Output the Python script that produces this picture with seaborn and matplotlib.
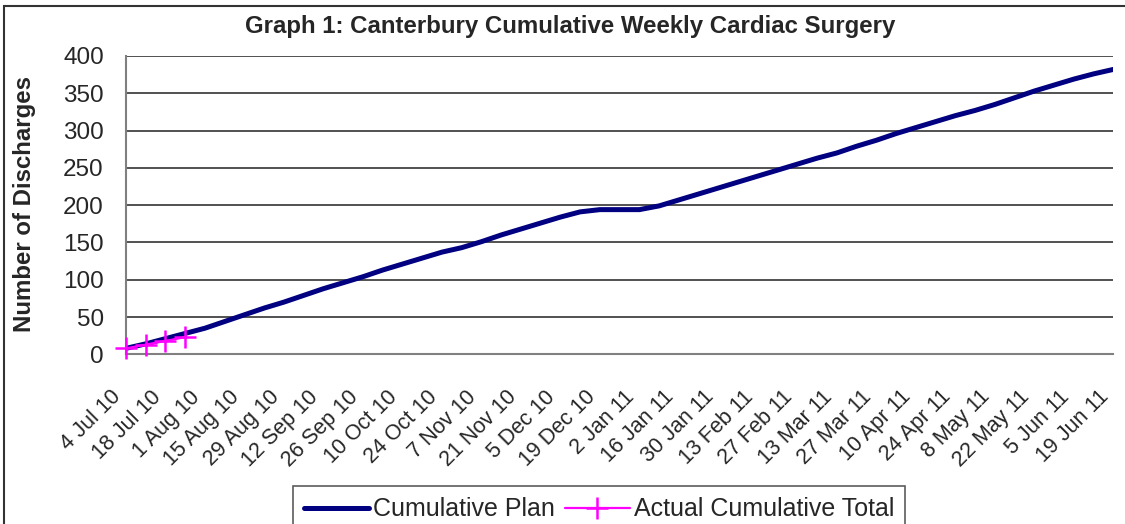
import numpy as np
import pandas as pd
import matplotlib
matplotlib.use("Agg")
import matplotlib.pyplot as plt
import matplotlib.transforms as mtransforms
from matplotlib.patches import Rectangle
from matplotlib.lines import Line2D
import seaborn as sns

# ---------------- data ----------------
week_start = pd.date_range("2010-07-04", periods=51, freq="7D")
cumulative_plan = [8, 14, 21, 28, 35, 44, 53, 62, 70, 79,
                   88, 96, 104, 113, 121, 129, 137, 143, 151, 160,
                   168, 176, 184, 191, 194, 194, 194, 199, 207, 215,
                   223, 231, 239, 247, 255, 263, 270, 279, 287, 296,
                   304, 312, 320, 327, 335, 344, 353, 361, 369, 376, 382]
actual_weeks = [0, 1, 2, 3]
actual_cumulative = [8, 13, 18, 23]
tick_labels = ["4 Jul 10", "18 Jul 10", "1 Aug 10", "15 Aug 10", "29 Aug 10",
               "12 Sep 10", "26 Sep 10", "10 Oct 10", "24 Oct 10", "7 Nov 10",
               "21 Nov 10", "5 Dec 10", "19 Dec 10", "2 Jan 11", "16 Jan 11",
               "30 Jan 11", "13 Feb 11", "27 Feb 11", "13 Mar 11", "27 Mar 11",
               "10 Apr 11", "24 Apr 11", "8 May 11", "22 May 11", "5 Jun 11",
               "19 Jun 11"]
y_ticks = [0, 50, 100, 150, 200, 250, 300, 350, 400]

title = "Graph 1: Canterbury Cumulative Weekly Cardiac Surgery"
y_label = "Number of Discharges"

NAVY = "#000080"
MAGENTA = "#FF00FF"

# ---------------- style ----------------
sns.set_style("white")
plt.rcParams["font.family"] = ["Liberation Sans", "DejaVu Sans"]

W, H = 1125, 524
fig = plt.figure(figsize=(W / 100, H / 100), dpi=100)
ax = fig.add_axes([126 / W, 1 - 354.3 / H, (1113.3 - 126) / W, (354.3 - 56) / H])

plan_df = pd.DataFrame({"week": np.arange(len(week_start)), "value": cumulative_plan})
act_df = pd.DataFrame({"week": actual_weeks, "value": actual_cumulative})

sns.lineplot(data=plan_df, x="week", y="value", color=NAVY, linewidth=3.6,
             ax=ax, zorder=3)
sns.lineplot(data=act_df, x="week", y="value", color=MAGENTA, linewidth=1.6,
             marker="+", markersize=16, markeredgewidth=1.8,
             markeredgecolor=MAGENTA, markerfacecolor=MAGENTA,
             ax=ax, zorder=4, clip_on=False)

ax.set_xlim(0, len(week_start) - 1)
ax.set_ylim(0, 400)
ax.set_xlabel("")
ax.set_ylabel("")
ax.yaxis.grid(True, color="#222222", linewidth=1.1)
ax.xaxis.grid(False)
for s in ["top", "right"]:
    ax.spines[s].set_visible(False)
for s in ["left", "bottom"]:
    ax.spines[s].set_color("#808080")
    ax.spines[s].set_linewidth(1.5)
ax.tick_params(axis="x", direction="out", length=5.5, width=1.2, color="#808080", pad=23)
ax.tick_params(axis="y", direction="out", length=6, width=1.2, color="#808080", pad=10)
ax.set_facecolor("white")

ax.set_yticks(y_ticks)
ax.set_yticklabels([str(v) for v in y_ticks], fontsize=17.5)
ax.set_xticks(np.arange(0, len(week_start), 2))
ax.set_xticklabels(tick_labels, fontsize=15.5, rotation=45, ha="right",
                   va="center", rotation_mode="anchor")
offset = mtransforms.ScaledTranslation(-8 / 100, 0, fig.dpi_scale_trans)
for lbl in ax.get_xticklabels():
    lbl.set_transform(lbl.get_transform() + offset)

fig.text(570 / W, 1 - 27 / H, title, ha="center", va="center",
         fontsize=17.3, fontweight="bold")
fig.text(25 / W, 1 - 204.5 / H, y_label, ha="center", va="center",
         rotation=90, fontsize=17.3, fontweight="bold")

# outer chart-area border
fig.patches.append(Rectangle((4 / W, -0.05), 1.2, 1 - 6 / H + 0.05,
                             transform=fig.transFigure, fill=False,
                             edgecolor="#333333", linewidth=1.5))

handles = [Line2D([], [], color=NAVY, linewidth=3.6),
           Line2D([], [], color=MAGENTA, linewidth=1.6, marker="+",
                  markersize=16, markeredgewidth=1.8, markeredgecolor=MAGENTA)]
leg = fig.legend(handles, ["Cumulative Plan", "Actual Cumulative Total"],
                 loc="upper left", bbox_to_anchor=(293 / W, 1 - 486 / H),
                 ncol=2, fontsize=18, frameon=True, fancybox=False,
                 handlelength=2.6, handletextpad=0.15, columnspacing=0.4,
                 borderpad=0.45, borderaxespad=0)
leg.get_frame().set_edgecolor("#333333")
leg.get_frame().set_linewidth(1.2)

fig.savefig("out.png", dpi=100)
